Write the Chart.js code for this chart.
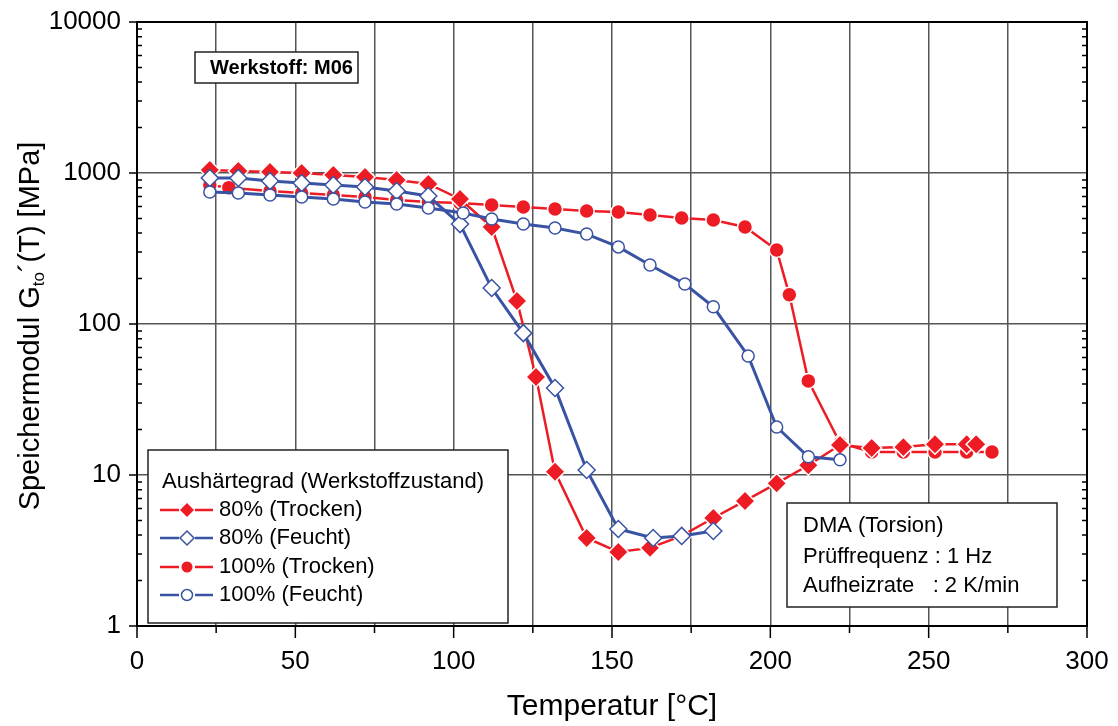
<!DOCTYPE html>
<html>
<head>
<meta charset="utf-8">
<script src="https://cdn.jsdelivr.net/npm/chart.js@4.4.1/dist/chart.umd.min.js"></script>
<style>
  html, body { margin: 0; padding: 0; background: #fff; }
</style>
</head>
<body>
<canvas id="dma" width="1118" height="726"></canvas>
<script>
// Temperatur [°C] und Speichermodul [MPa]
const tempTrocken80 = [23, 32, 42, 52, 62, 72, 82, 92, 102, 112, 120, 126, 132, 142, 152, 162, 172, 182, 192, 202, 212, 222, 232, 242, 252, 262, 265];
const modTrocken80 = [1047, 1032, 1017, 1000, 970, 942, 899, 846, 673, 439, 142, 44.6, 10.5, 3.83, 3.09, 3.29, 3.95, 5.19, 6.73, 8.8, 11.6, 15.8, 15.1, 15.3, 16.0, 16.0, 16.0];

const tempFeucht80 = [23, 32, 42, 52, 62, 72, 82, 92, 102, 112, 122, 132, 142, 152, 163, 172, 182];
const modFeucht80 = [927, 927, 885, 859, 833, 808, 760, 704, 459, 173, 87, 37.7, 10.8, 4.39, 3.83, 3.95, 4.26];

const tempTrocken100 = [23, 29, 42, 52, 62, 72, 82, 92, 102, 112, 122, 132, 142, 152, 162, 172, 182, 192, 202, 206, 212, 222, 232, 242, 252, 262, 270];
const modTrocken100 = [833, 800, 760, 738, 715, 693, 662, 643, 633, 614, 596, 578, 560, 552, 527, 503, 488, 439, 309, 156, 42, 16.3, 14.2, 14.2, 14.2, 14.2, 14.2];

const tempFeucht100 = [23, 32, 42, 52, 62, 72, 82, 92, 103, 112, 122, 132, 142, 152, 162, 173, 182, 193, 202, 212, 222];
const modFeucht100 = [748, 738, 715, 693, 673, 643, 623, 586, 543, 496, 459, 432, 394, 324, 246, 184, 130, 61.4, 20.8, 13.2, 12.6];

const seriesLabels = ['80% (Trocken)', '80% (Feucht)', '100% (Trocken)', '100% (Feucht)'];
const xTicks = [0, 50, 100, 150, 200, 250, 300];
const yTicks = [1, 10, 100, 1000, 10000];

const RED = '#ED1C24';
const BLUE = '#3953A4';
const FONT = '"Liberation Sans", Arial, sans-serif';

function points(xs, ys) {
    return xs.map((t, i) => ({ x: t, y: ys[i] }));
}

function drawMarker(ctx, style, filled, color, x, y, r) {
    ctx.beginPath();
    if (style === 'rectRot') {
        ctx.moveTo(x - r, y); ctx.lineTo(x, y - r); ctx.lineTo(x + r, y); ctx.lineTo(x, y + r);
        ctx.closePath();
    } else {
        ctx.arc(x, y, r, 0, Math.PI * 2);
    }
    if (filled) {
        ctx.fillStyle = color; ctx.fill();
    } else {
        ctx.fillStyle = '#fff'; ctx.fill();
        ctx.strokeStyle = color; ctx.lineWidth = 1.5; ctx.stroke();
    }
}

function textBox(ctx, x, y, w, h) {
    ctx.fillStyle = '#fff';
    ctx.fillRect(x, y, w, h);
    ctx.strokeStyle = '#222';
    ctx.lineWidth = 1.5;
    ctx.strokeRect(x, y, w, h);
}

const framePlugin = {
    id: 'frame',
    beforeDatasetsDraw(chart) {
        const { ctx, chartArea: a, scales: { x, y } } = chart;
        ctx.save();
        ctx.strokeStyle = '#000';
        ctx.lineWidth = 1.5;
        ctx.beginPath();
        // x tick marks, outward
        for (let v = 0; v <= 300; v += 25) {
            const px = x.getPixelForValue(v);
            ctx.moveTo(px, a.bottom);
            ctx.lineTo(px, a.bottom + (v % 50 === 0 ? 12 : 7));
        }
        // y tick marks: decades outward, minors inward on both sides
        yTicks.forEach((d, i) => {
            const py = y.getPixelForValue(d);
            ctx.moveTo(a.left - 8, py); ctx.lineTo(a.left, py);
            if (i === yTicks.length - 1) return;
            for (let k = 2; k <= 9; k++) {
                const pm = y.getPixelForValue(d * k);
                ctx.moveTo(a.left, pm); ctx.lineTo(a.left + 5, pm);
                ctx.moveTo(a.right, pm); ctx.lineTo(a.right - 5, pm);
            }
        });
        ctx.stroke();
        ctx.lineWidth = 2;
        ctx.strokeRect(a.left, a.top, a.right - a.left, a.bottom - a.top);
        ctx.restore();
    },
    afterDatasetsDraw(chart) {
        const { ctx } = chart;
        ctx.save();

        // Werkstoff label
        textBox(ctx, 195, 52, 163, 31);
        ctx.fillStyle = '#000';
        ctx.font = 'bold 20px ' + FONT;
        ctx.textBaseline = 'middle';
        ctx.textAlign = 'left';
        ctx.fillText('Werkstoff: M06', 210, 68);

        // legend
        textBox(ctx, 148, 450, 360, 173);
        ctx.font = '22px ' + FONT;
        ctx.fillStyle = '#000';
        ctx.fillText('Aushärtegrad (Werkstoffzustand)', 162, 482);
        const rows = [510, 538, 567, 595];
        chart.data.datasets.forEach((ds, i) => {
            const yy = rows[i];
            ctx.strokeStyle = ds.borderColor;
            ctx.lineWidth = 2.5;
            ctx.beginPath();
            ctx.moveTo(160, yy); ctx.lineTo(179, yy);
            ctx.moveTo(195, yy); ctx.lineTo(213, yy);
            ctx.stroke();
            const filled = ds.pointBackgroundColor !== '#fff';
            drawMarker(ctx, ds.pointStyle, filled, ds.borderColor, 187, yy, ds.pointStyle === 'rectRot' ? 7 : 5.5);
            ctx.fillStyle = '#000';
            ctx.fillText(ds.label, 219, yy);
        });

        // test conditions
        textBox(ctx, 787, 503, 270, 104);
        ctx.fillStyle = '#000';
        ctx.fillText('DMA (Torsion)', 803, 526);
        ctx.fillText('Prüffrequenz : 1 Hz', 803, 557);
        ctx.fillText('Aufheizrate   : 2 K/min', 803, 586);

        // y axis title with subscript
        ctx.translate(31, 326);
        ctx.rotate(-Math.PI / 2);
        const big = '29px ' + FONT, small = '17px ' + FONT;
        const p1 = 'Speichermodul G', p2 = 'to', p3 = '\u00B4(T) [MPa]';
        ctx.font = big; const w1 = ctx.measureText(p1).width, w3 = ctx.measureText(p3).width;
        ctx.font = small; const w2 = ctx.measureText(p2).width;
        let sx = -(w1 + w2 + w3) / 2;
        ctx.textAlign = 'left';
        ctx.font = big; ctx.fillText(p1, sx, 0); sx += w1;
        ctx.font = small; ctx.fillText(p2, sx, 8); sx += w2;
        ctx.font = big; ctx.fillText(p3, sx, 0);
        ctx.restore();
    }
};

new Chart(document.getElementById('dma'), {
    type: 'line',
    data: {
        datasets: [
            {
                label: seriesLabels[0], data: points(tempTrocken80, modTrocken80), order: 3,
                borderColor: RED, borderWidth: 2.5, pointStyle: 'rectRot', pointRadius: 10,
                pointBackgroundColor: RED, pointBorderColor: '#fff', pointBorderWidth: 1.5
            },
            {
                label: seriesLabels[1], data: points(tempFeucht80, modFeucht80), order: 2,
                borderColor: BLUE, borderWidth: 3, pointStyle: 'rectRot', pointRadius: 8.5,
                pointBackgroundColor: '#fff', pointBorderColor: BLUE, pointBorderWidth: 1.5
            },
            {
                label: seriesLabels[2], data: points(tempTrocken100, modTrocken100), order: 4,
                borderColor: RED, borderWidth: 2.5, pointStyle: 'circle', pointRadius: 7.5,
                pointBackgroundColor: RED, pointBorderColor: '#fff', pointBorderWidth: 1.5
            },
            {
                label: seriesLabels[3], data: points(tempFeucht100, modFeucht100), order: 1,
                borderColor: BLUE, borderWidth: 3, pointStyle: 'circle', pointRadius: 6,
                pointBackgroundColor: '#fff', pointBorderColor: BLUE, pointBorderWidth: 1.5
            }
        ]
    },
    options: {
        responsive: false,
        animation: false,
        layout: { autoPadding: false, padding: { left: 0, top: 22, right: 31, bottom: 0 } },
        plugins: { legend: { display: false }, tooltip: { enabled: false } },
        scales: {
            x: {
                type: 'linear', min: 0, max: 300,
                afterFit: s => { s.height = 100; s.paddingLeft = 0; s.paddingRight = 0; },
                afterBuildTicks: s => {
                    const t = [];
                    for (let v = 0; v <= 300; v += 25) t.push({ value: v });
                    s.ticks = t;
                },
                grid: { color: '#555', lineWidth: 1.5, drawTicks: false },
                border: { display: false },
                ticks: {
                    padding: 20, color: '#000', maxRotation: 0, autoSkip: false,
                    font: { family: FONT, size: 26 },
                    callback: v => xTicks.includes(v) ? String(v) : ''
                },
                title: {
                    display: true, text: 'Temperatur [°C]', color: '#000',
                    font: { family: FONT, size: 30 }, padding: { top: 0, bottom: 1 }
                }
            },
            y: {
                type: 'logarithmic', min: 1, max: 10000,
                afterFit: s => { s.width = 137; s.paddingTop = 0; s.paddingBottom = 0; },
                afterBuildTicks: s => { s.ticks = yTicks.map(v => ({ value: v })); },
                grid: { color: '#555', lineWidth: 1.5, drawTicks: false },
                border: { display: false },
                ticks: {
                    padding: 16, color: '#000', autoSkip: false,
                    font: { family: FONT, size: 26 },
                    callback: v => String(v)
                }
            }
        }
    },
    plugins: [framePlugin]
});
</script>
</body>
</html>
